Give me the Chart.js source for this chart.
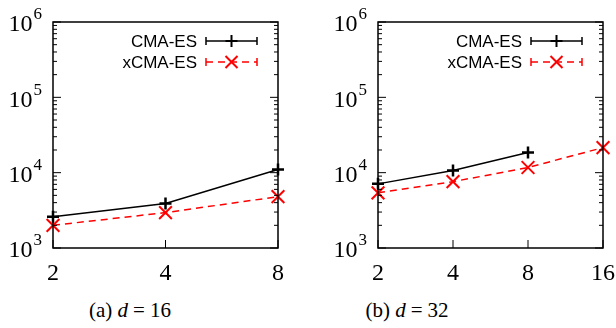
<!DOCTYPE html>
<html>
<head>
<meta charset="utf-8">
<script src="https://cdn.jsdelivr.net/npm/chart.js@4"></script>
<style>
  body { margin: 0; background: #fff; width: 616px; height: 328px; position: relative; overflow: hidden; }
  canvas { position: absolute; top: 0; }
  #chartA { left: 0; }
  #chartB { left: 325px; }
  .caption { position: absolute; top: 298px; font-family: "Liberation Serif", serif; font-size: 21px; color: #000; transform: translateX(-50%); white-space: nowrap; }
  .caption i { margin-right: 5px; }
  .caption span { margin-right: 5px; }
</style>
</head>
<body>
<canvas id="chartA" width="300" height="290"></canvas>
<canvas id="chartB" width="291" height="290"></canvas>
<div class="caption" style="left:130px">(a) <i>d</i><span>=</span>16</div>
<div class="caption" style="left:407px">(b) <i>d</i><span>=</span>32</div>
<script>
// --- datos ---
const labels16 = ['2', '4', '8'];
const cma16 = [2600, 3900, 11000];
const xcma16 = [2000, 2950, 4800];

const labels32 = ['2', '4', '8', '16'];
const cma32 = [7100, 10700, 18500];
const xcma32 = [5400, 7600, 11700, 21500];

const yExponents = [3, 4, 5, 6];
const seriesNames = ['CMA-ES', 'xCMA-ES'];

// --- ejes estilo gnuplot + leyenda ---
const gnuplotAxes = {
  id: 'gnuplotAxes',
  afterDraw(chart) {
    const { ctx, chartArea: a, scales } = chart;
    const x = scales.x, y = scales.y;
    ctx.save();
    ctx.strokeStyle = '#000';
    ctx.lineWidth = 1;

    // ticks menores y mayores (izquierda y derecha, hacia dentro)
    ctx.beginPath();
    yExponents.forEach((e, i) => {
      const py = y.getPixelForValue(Math.pow(10, e));
      ctx.moveTo(a.left, py); ctx.lineTo(a.left + 8, py);
      ctx.moveTo(a.right, py); ctx.lineTo(a.right - 8, py);
      if (i < yExponents.length - 1) {
        for (let m = 2; m <= 9; m++) {
          const pm = y.getPixelForValue(m * Math.pow(10, e));
          ctx.moveTo(a.left, pm); ctx.lineTo(a.left + 4, pm);
          ctx.moveTo(a.right, pm); ctx.lineTo(a.right - 4, pm);
        }
      }
    });
    x.ticks.forEach((t, i) => {
      const px = x.getPixelForTick(i);
      ctx.moveTo(px, a.bottom); ctx.lineTo(px, a.bottom - 8);
    });
    ctx.stroke();

    // marco
    ctx.lineWidth = 1.5;
    ctx.strokeRect(a.left, a.top, a.right - a.left, a.bottom - a.top);

    // etiquetas eje y: 10^e
    ctx.fillStyle = '#000';
    ctx.textBaseline = 'middle';
    ctx.textAlign = 'right';
    yExponents.forEach(e => {
      const py = y.getPixelForValue(Math.pow(10, e));
      ctx.font = '17px "Liberation Serif", serif';
      const ew = ctx.measureText(String(e)).width;
      ctx.fillText(String(e), a.left - 11, py - 7);
      ctx.font = '24px "Liberation Serif", serif';
      ctx.fillText('10', a.left - 12 - ew, py + 3);
    });

    // etiquetas eje x
    ctx.textAlign = 'center';
    ctx.font = '24px "Liberation Serif", serif';
    x.ticks.forEach((t, i) => {
      ctx.fillText(chart.data.labels[i], x.getPixelForTick(i), a.bottom + 26);
    });

    // leyenda
    const x1 = a.right - 72, x2 = a.right - 21, xm = (x1 + x2) / 2;
    const rows = [a.top + 19, a.top + 40];
    ctx.font = '17px "Liberation Sans", sans-serif';
    ctx.textAlign = 'right';
    seriesNames.forEach((name, i) => {
      const ry = rows[i];
      ctx.fillStyle = '#000';
      ctx.fillText(name, x1 - 9, ry + 1);
      const col = i === 0 ? '#000' : '#ff0000';
      ctx.strokeStyle = col;
      ctx.lineWidth = 1.5;
      ctx.setLineDash(i === 0 ? [] : [7, 5]);
      ctx.beginPath();
      ctx.moveTo(x1, ry); ctx.lineTo(x2, ry);
      ctx.stroke();
      ctx.setLineDash([]);
      ctx.beginPath();
      ctx.moveTo(x1, ry - 4); ctx.lineTo(x1, ry + 4);
      ctx.moveTo(x2, ry - 4); ctx.lineTo(x2, ry + 4);
      ctx.stroke();
      ctx.lineWidth = 2;
      ctx.beginPath();
      if (i === 0) {
        ctx.moveTo(xm - 6, ry); ctx.lineTo(xm + 6, ry);
        ctx.moveTo(xm, ry - 6); ctx.lineTo(xm, ry + 6);
      } else {
        ctx.moveTo(xm - 6, ry - 6); ctx.lineTo(xm + 6, ry + 6);
        ctx.moveTo(xm - 6, ry + 6); ctx.lineTo(xm + 6, ry - 6);
      }
      ctx.stroke();
    });
    ctx.restore();
  }
};

function crearGrafica(id, labels, cma, xcma, padRight) {
  return new Chart(document.getElementById(id), {
    type: 'line',
    data: {
      labels: labels,
      datasets: [
        {
          label: seriesNames[1],
          data: xcma,
          borderColor: '#ff0000',
          borderWidth: 1.5,
          borderDash: [7, 5],
          pointStyle: 'crossRot',
          pointRadius: 9,
          pointBorderWidth: 2,
          pointBorderColor: '#ff0000',
          fill: false,
          tension: 0,
          clip: false
        },
        {
          label: seriesNames[0],
          data: cma,
          borderColor: '#000',
          borderWidth: 1.5,
          pointStyle: 'cross',
          pointRadius: 6,
          pointBorderWidth: 2.5,
          pointBorderColor: '#000',
          fill: false,
          tension: 0,
          clip: false
        }
      ]
    },
    options: {
      responsive: false,
      animation: false,
      devicePixelRatio: 1,
      layout: { padding: { left: 53, right: padRight, top: 22, bottom: 42 } },
      plugins: { legend: { display: false }, tooltip: { enabled: false } },
      scales: {
        x: { type: 'category', offset: false, display: false },
        y: { type: 'logarithmic', min: 1000, max: 1000000, display: false }
      }
    },
    plugins: [gnuplotAxes]
  });
}

crearGrafica('chartA', labels16, cma16, xcma16, 22);
crearGrafica('chartB', labels32, cma32, xcma32, 13);
</script>
</body>
</html>
